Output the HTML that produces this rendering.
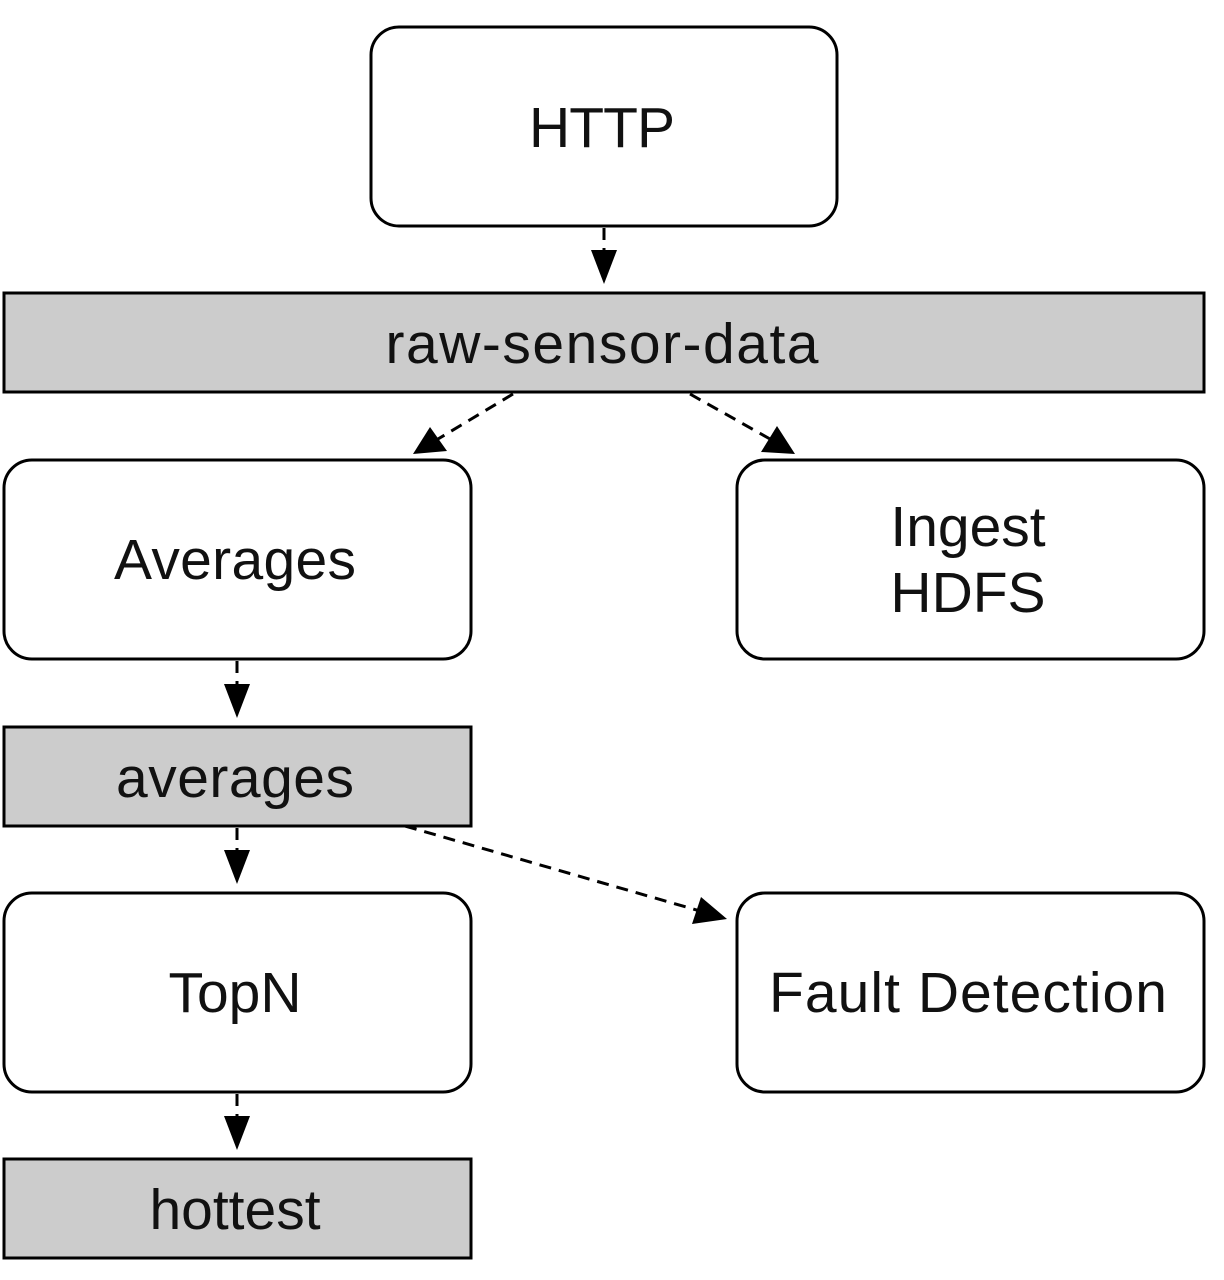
<!DOCTYPE html>
<html><head><style>html,body{margin:0;padding:0;background:#fff}svg{display:block}</style></head>
<body>
<svg width="1224" height="1280" viewBox="0 0 1224 1280" xmlns="http://www.w3.org/2000/svg">
<g stroke="#000" stroke-width="3" fill="#fff">
<rect x="371" y="27" width="466" height="199" rx="28"/>
<rect x="4" y="293" width="1200" height="99" fill="#ccc"/>
<rect x="4" y="460" width="467" height="199" rx="28"/>
<rect x="737" y="460" width="467" height="199" rx="28"/>
<rect x="4" y="727" width="467" height="99" fill="#ccc"/>
<rect x="4" y="893" width="467" height="199" rx="28"/>
<rect x="737" y="893" width="467" height="199" rx="28"/>
<rect x="4" y="1159" width="467" height="99" fill="#ccc"/>
</g>
<g stroke="#000" stroke-width="3" stroke-dasharray="12 8" fill="none">
<line x1="604" y1="228" x2="604" y2="252"/>
<line x1="513" y1="394" x2="438" y2="439"/>
<line x1="690" y1="394" x2="770" y2="439"/>
<line x1="237" y1="661" x2="237" y2="686"/>
<line x1="237" y1="828" x2="237" y2="852"/>
<line x1="405" y1="826" x2="700" y2="911"/>
<line x1="237" y1="1094" x2="237" y2="1118"/>
</g>
<g fill="#000">
<polygon points="591,250 617,250 604,284"/>
<polygon points="413,454 430,427 447,451"/>
<polygon points="795,454 761,452 777,426"/>
<polygon points="224,684 250,684 237,718"/>
<polygon points="224,850 250,850 237,884"/>
<polygon points="727,919 692,924 701,897"/>
<polygon points="224,1116 250,1116 237,1150"/>
</g>
<g font-family="Liberation Sans, Arial, sans-serif" font-size="57" fill="#111" text-anchor="middle">
<text x="602" y="147" textLength="146">HTTP</text>
<text x="602" y="363" textLength="433">raw-sensor-data</text>
<text x="235" y="579" textLength="242">Averages</text>
<text x="968" y="546">Ingest</text>
<text x="968" y="612">HDFS</text>
<text x="235" y="797" textLength="238">averages</text>
<text x="235" y="1012">TopN</text>
<text x="968" y="1012" textLength="398">Fault Detection</text>
<text x="235" y="1229">hottest</text>
</g>
</svg>
</body></html>
